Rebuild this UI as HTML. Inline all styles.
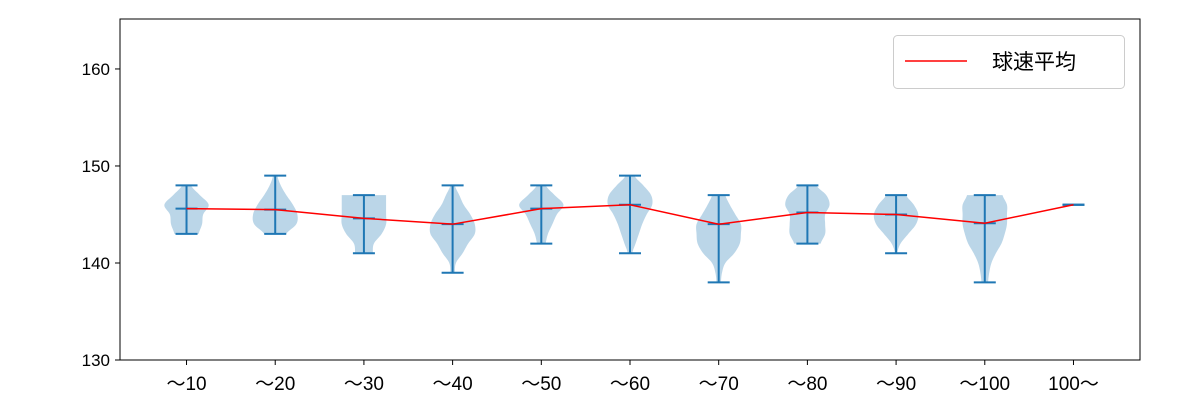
<!DOCTYPE html>
<html><head><meta charset="utf-8"><style>
body{margin:0;background:#fff}
text{font-family:"Liberation Sans","Noto Sans CJK JP",sans-serif;fill:#000}
</style></head><body>
<svg width="1200" height="400" id="chart"></svg>
<script>
const categories=["～10","～20","～30","～40","～50","～60","～70","～80","～90","～100","100～"];
const mins=[143,143,141,139,142,141,138,142,141,138,146];
const maxs=[148,149,147,148,148,149,147,148,147,147,146];
const means=[145.6,145.5,144.6,144.0,145.6,146.0,144.0,145.2,145.0,144.1,146.0];
const densities=[
[0.55,0.7,0.75,1,0.6,0.2],
[0.5,0.95,1,0.8,0.5,0.25,0.1],
[0.4,0.45,0.8,1,1,1,1],
[0.1,0.15,0.45,0.7,1,1,0.8,0.5,0.3,0.1],
[0.2,0.3,0.5,0.7,1,0.6,0.2],
[0.1,0.25,0.4,0.55,0.75,1,0.95,0.6,0.2],
[0.1,0.15,0.3,0.7,0.95,1,1,0.75,0.5,0.3],
[0.6,0.8,0.8,0.8,1,0.85,0.4],
[0.05,0.2,0.55,0.9,1,0.8,0.45],
[0.15,0.2,0.3,0.5,0.75,0.9,1,1,1,0.8],
[1]];
const yTicks=[130,140,150,160];
const legendLabel="球速平均";
const NS="http://www.w3.org/2000/svg";
const svg=document.getElementById('chart');
const L=120,R=1140,T=19,B=360,ymin=130,ymax=165.15,xmin=0.25,xmax=11.75;
const X=v=>L+(v-xmin)/(xmax-xmin)*(R-L);
const Y=v=>B-(v-ymin)/(ymax-ymin)*(B-T);
function mk(t,a,p){const e=document.createElementNS(NS,t);for(const k in a)e.setAttribute(k,a[k]);(p||svg).appendChild(e);return e;}
function smooth(d){
 const out=[];const n=d.length;
 for(let j=0;j<n-1;j++){
  const p0=d[Math.max(j-1,0)],p1=d[j],p2=d[j+1],p3=d[Math.min(j+2,n-1)];
  for(let s=0;s<8;s++){const t=s/8;
   out.push([j+t,Math.max(0,0.5*((2*p1)+(-p0+p2)*t+(2*p0-5*p1+4*p2-p3)*t*t+(-p0+3*p1-3*p2+p3)*t*t*t))]);}
 }
 out.push([n-1,d[n-1]]);return out;
}
const hw=(X(2)-X(1))*0.25;
categories.forEach((c,i)=>{
 const cx=X(i+1);
 const g=mk('g',{});
 
 
 const d=densities[i];
 if(d.length>1){
  let l=[],r=[];
  smooth(d).forEach(([k,w])=>{const y=Y(mins[i]+k);r.push((cx+w*hw)+','+y);l.unshift((cx-w*hw)+','+y);});
  const p=mk('polygon',{points:r.concat(l).join(' '),fill:'#1f77b4','fill-opacity':0.3,stroke:'none'},g);
  
  
 }
 const st={stroke:'#1f77b4','stroke-width':2};
 mk('line',Object.assign({x1:cx,x2:cx,y1:Y(mins[i]),y2:Y(maxs[i])},st),g);
 [mins[i],maxs[i],means[i]].forEach(v=>mk('line',Object.assign({x1:cx-11,x2:cx+11,y1:Y(v),y2:Y(v)},st),g));
 const t=mk('text',{x:cx,y:B+30,'text-anchor':'middle','font-size':19});
 t.textContent=c;
 
 
 mk('line',{x1:cx,x2:cx,y1:B,y2:B+5,stroke:'#000'});
});
const pl=mk('polyline',{points:means.map((m,i)=>X(i+1)+','+Y(m)).join(' '),fill:'none',stroke:'#ff0000','stroke-width':1.5});


yTicks.forEach(v=>{
 mk('line',{x1:L-5,x2:L,y1:Y(v),y2:Y(v),stroke:'#000'});
 const t=mk('text',{x:L-10,y:Y(v)+6,'text-anchor':'end','font-size':17});
 t.textContent=v;
 
 
});
const ax=mk('rect',{x:L,y:T,width:R-L,height:B-T,fill:'none',stroke:'#000','stroke-width':1});


const lg=mk('g',{});


mk('rect',{x:893.5,y:35.5,width:231,height:53,rx:4,fill:'#fff',stroke:'#ccc'},lg);
mk('line',{x1:905,x2:967,y1:61,y2:61,stroke:'#ff0000','stroke-width':1.5},lg);
const lt=mk('text',{x:992,y:69,'font-size':21},lg);
lt.textContent=legendLabel;


</script>
</body></html>
